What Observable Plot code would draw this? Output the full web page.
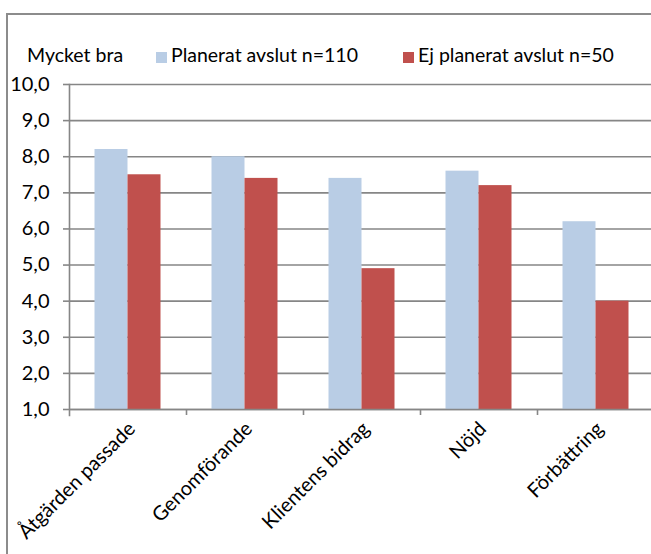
<!DOCTYPE html>
<html><head><meta charset="utf-8">
<script src="https://cdn.jsdelivr.net/npm/d3@7"></script>
<script src="https://cdn.jsdelivr.net/npm/@observablehq/plot@0.6"></script>
<style>
body{margin:0;width:651px;height:554px;overflow:hidden;background:#fff;font-family:Lato,sans-serif;position:relative}
#chart{position:absolute;left:0;top:0}
#border{position:absolute;left:6px;top:13px;width:700px;height:600px;border:2px solid #8c8c8c;pointer-events:none}
.lg{position:absolute;top:44px;font-size:19.5px;color:#000;white-space:nowrap;line-height:22px}
.sw{position:absolute;top:52px;width:11px;height:11px}
</style></head><body>
<div id="chart"></div>
<div id="border"></div>
<div id="legend"></div>
<script>
const categories = ["Åtgärden passade", "Genomförande", "Klientens bidrag", "Nöjd", "Förbättring"];
const planerat = [8.2, 8.0, 7.4, 7.6, 6.2];
const ejPlanerat = [7.5, 7.4, 4.9, 7.2, 4.0];
const series = ["Planerat avslut n=110", "Ej planerat avslut n=50"];
const yTicks = [1, 2, 3, 4, 5, 6, 7, 8, 9, 10];
const yLabel = "Mycket bra";
const colors = ["#B9CDE5", "#C0504D"];

const rowsA = categories.map((c, i) => ({cat: c, value: planerat[i]}));
const rowsB = categories.map((c, i) => ({cat: c, value: ejPlanerat[i]}));

const gridColor = "#868686";
const band = (654 - 69) / categories.length;
const barW = 33;

const chart = Plot.plot({
  width: 651,
  height: 554,
  marginLeft: 69,
  marginRight: 0,
  marginTop: 84,
  marginBottom: 145,
  style: {fontFamily: "Lato, sans-serif", fontSize: "20px", color: "#000", background: "transparent"},
  x: {domain: categories, range: [69, 654], padding: 0},
  y: {domain: [1, 10]},
  marks: [
    Plot.gridY(yTicks, {stroke: gridColor, strokeOpacity: 1, strokeWidth: 1.6}),
    Plot.barY(rowsA, {x: "cat", y1: 1, y2: "value", fill: colors[0], insetLeft: band / 2 - barW, insetRight: band / 2}),
    Plot.barY(rowsB, {x: "cat", y1: 1, y2: "value", fill: colors[1], insetLeft: band / 2, insetRight: band / 2 - barW}),
    Plot.frame({anchor: "left", stroke: gridColor, strokeWidth: 1.6, insetBottom: -6}),
    Plot.ruleY([1], {stroke: gridColor, strokeWidth: 1.6}),
    Plot.axisY(yTicks, {tickSize: 6, tickPadding: 14, stroke: gridColor, strokeWidth: 1.6, fontSize: 20,
      tickFormat: d => d.toFixed(1).replace(".", ","), label: null}),
    Plot.axisX({tickSize: 6, dx: band / 2, tickFormat: () => "", stroke: gridColor, strokeWidth: 1.6, label: null}),
    Plot.axisX({tickSize: 0, tickPadding: 16, tickRotate: -45, fontSize: 20, dx: 4, label: null})
  ]
});
document.getElementById("chart").appendChild(chart);

const lg = document.getElementById("legend");
const items = [
  {text: yLabel, left: 27},
  {text: series[0], left: 171, sw: 156, color: colors[0]},
  {text: series[1], left: 418, sw: 403, color: colors[1]}
];
for (const it of items) {
  const t = document.createElement("div");
  t.className = "lg"; t.style.left = it.left + "px"; t.textContent = it.text;
  lg.appendChild(t);
  if (it.sw) {
    const s = document.createElement("div");
    s.className = "sw"; s.style.left = it.sw + "px"; s.style.background = it.color;
    lg.appendChild(s);
  }
}
</script>
</body></html>
